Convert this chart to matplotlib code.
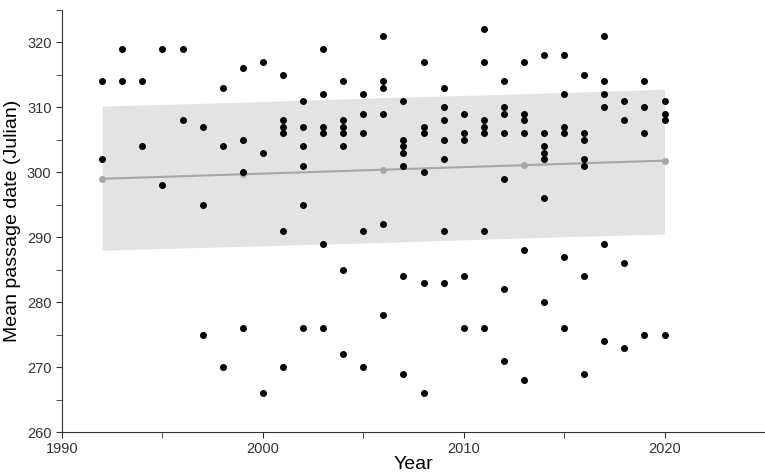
import numpy as np
import matplotlib.pyplot as plt

plt.rcParams['font.family'] = ['Liberation Sans', 'DejaVu Sans']

# mean passage dates per year
passage = {
    1992: [314, 302],
    1993: [319, 314],
    1994: [314, 304],
    1995: [319, 298],
    1996: [319, 308],
    1997: [307, 295, 275],
    1998: [313, 304, 270],
    1999: [316, 305, 300, 276],
    2000: [317, 303, 266],
    2001: [315, 308, 307, 306, 291, 270],
    2002: [311, 307, 304, 301, 295, 276],
    2003: [319, 312, 307, 306, 289, 276],
    2004: [314, 308, 307, 306, 304, 285, 272],
    2005: [312, 309, 306, 291, 270],
    2006: [321, 314, 313, 309, 292, 278],
    2007: [311, 305, 304, 303, 301, 284, 269],
    2008: [317, 307, 306, 300, 283, 266],
    2009: [313, 310, 308, 305, 302, 291, 283],
    2010: [309, 306, 305, 284, 276],
    2011: [322, 317, 308, 307, 306, 291, 276],
    2012: [314, 310, 309, 306, 299, 282, 271],
    2013: [317, 309, 308, 306, 288, 268],
    2014: [318, 306, 304, 303, 302, 296, 280],
    2015: [318, 312, 307, 306, 287, 276],
    2016: [315, 306, 305, 302, 301, 284, 269],
    2017: [321, 314, 312, 310, 289, 274],
    2018: [311, 308, 286, 273],
    2019: [314, 310, 306, 275],
    2020: [311, 309, 308, 275],
}

# fitted trend and confidence band
fit_years = [1992, 1999, 2006, 2013, 2020]
fit_mean = [299.0, 299.7, 300.4, 301.1, 301.8]
fit_lower = [288.0, 288.6, 289.2, 289.9, 290.5]
fit_upper = [310.2, 310.8, 311.5, 312.1, 312.8]

xs = [y for y, v in passage.items() for _ in v]
ys = [d for v in passage.values() for d in v]

fig = plt.figure(figsize=(7.65, 4.75), dpi=100)
ax = fig.add_axes([62/765, 1 - 432/475, 1 - 62/765, (432 - 10)/475])

ax.fill_between(fit_years, fit_lower, fit_upper, color='#e3e3e3', lw=0, zorder=1)
ax.plot(fit_years, fit_mean, color='#a6a6a6', lw=1.5, marker='o', ms=4, zorder=2)
ax.scatter(xs, ys, s=16, color='black', zorder=3)

ax.set_xlim(1990, 2025)
ax.set_ylim(260, 325)
ax.set_xticks([1990, 2000, 2010, 2020])
ax.set_xticks([1995, 2005, 2015], minor=True)
ax.set_yticks(np.arange(260, 321, 10))
ax.set_yticks(np.arange(265, 326, 10), minor=True)
ax.tick_params(labelsize=10.5, colors='#333333', length=4)
ax.tick_params(which='minor', length=4, color='#333333')
for s in ['top', 'right']:
    ax.spines[s].set_visible(False)
for s in ['left', 'bottom']:
    ax.spines[s].set_color('#333333')

ax.set_xlabel('Year', fontsize=14, labelpad=0)
ax.set_ylabel('Mean passage date (Julian)', fontsize=14)

fig.savefig('out.png')
